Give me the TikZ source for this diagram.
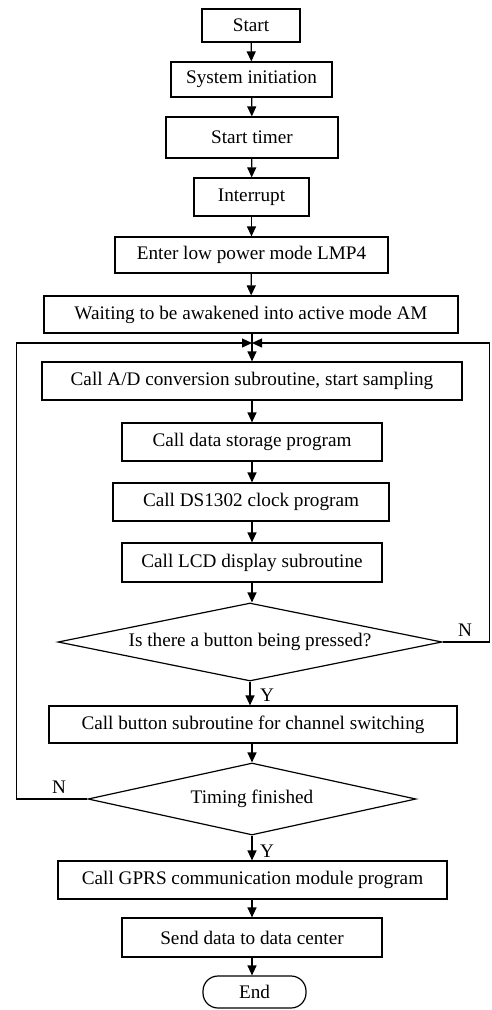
\documentclass[tikz,border=0pt]{standalone}
\usepackage{fontspec}
\setmainfont{Liberation Serif}
\usetikzlibrary{arrows.meta,shapes.geometric}

\tikzset{
  box/.style={draw, line width=1.2pt, minimum width=#1, minimum height=37pt, inner sep=0pt},
  choice/.style={draw, line width=1.2pt, diamond, aspect=5, inner sep=0pt},
  arr/.style={line width=1.2pt, -{Triangle[length=10pt,width=9pt]}},
  line/.style={line width=1.2pt}
}

\begin{document}
\begin{tikzpicture}[x=1pt, y=-1pt, every node/.style={font=\fontsize{19.2}{22}\selectfont}]
  \useasboundingbox (0,0) rectangle (491,1010);
  % main column
  \node[box=98, minimum height=33pt] (start) at (251,25.5) {Start};
  \node[box=161, minimum height=35pt] (init) at (251.5,79.5) {System initiation};
  \node[box=172, minimum height=41pt] (timer) at (252,137.5) {Start timer};
  \node[box=115, minimum height=38pt] (intr) at (251.5,197) {Interrupt};
  \node[box=273, minimum height=36pt] (lpm) at (251.5,255) {Enter low power mode LMP4};
  \node[box=414] (wait) at (251,314.5) {Waiting to be awakened into active mode AM};
  \coordinate (join) at (252,343);
  \node[box=420, minimum height=38pt] (ad) at (252,381) {Call A/D conversion subroutine, start sampling};
  \node[box=260, minimum height=38pt] (store) at (252,442) {Call data storage program};
  \node[box=276, minimum height=38pt] (clock) at (251,502) {Call DS1302 clock program};
  \node[box=260, minimum height=39pt] (lcd) at (252,562.5) {Call LCD display subroutine};
  \node[choice, minimum width=384pt, minimum height=78pt] (press) at (250,642) {Is there a button being pressed?};
  \node[box=408] (button) at (253,724.5) {Call button subroutine for channel switching};
  \node[choice, aspect=4.5, minimum width=328pt, minimum height=72pt] (done) at (252,799) {Timing finished};
  \node[box=389, minimum height=38pt] (gprs) at (252.5,880) {Call GPRS communication module program};
  \node[box=260, minimum height=39pt] (send) at (252,937.5) {Send data to data center};
  \node[draw, line width=1.2pt, rounded corners=15pt, minimum width=103pt, minimum height=32pt, inner sep=0pt] (end) at (254.5,992) {End};
  % arrows
  \draw[arr] (start) -- (init);
  \draw[arr] (init) -- (timer);
  \draw[arr] (timer) -- (intr);
  \draw[arr] (intr) -- (lpm);
  \draw[arr] (lpm) -- (wait);
  \draw[arr] (wait.south -| join) -- (ad.north -| join);
  \draw[arr] (ad.south -| store.north) -- (store);
  \draw[arr] (store) -- (clock.north -| store.south);
  \draw[arr] (clock.south -| lcd.north) -- (lcd);
  \draw[arr] (lcd) -- (press.north -| lcd.south);
  \draw[arr] (press.south) -- (button.north -| press.south);
  \draw[arr] (button.south -| done.north) -- (done.north);
  \draw[arr] (done.south) -- (gprs.north -| done.south);
  \draw[arr] (gprs.south -| send.north) -- (send);
  \draw[arr] (send.south -| join) -- (end.north -| join);
  % loops back
  \draw[arr] (done.west) -- ++(-71,0) |- (join);
  \draw[arr] (press.east) -- ++(47,0) |- (join);
  % labels
  \node (n1) at (465,630) {N};
  \node (y1) at (267,695) {Y};
  \node (n2) at (59,787) {N};
  \node (y2) at (267,851) {Y};
\end{tikzpicture}
\end{document}
